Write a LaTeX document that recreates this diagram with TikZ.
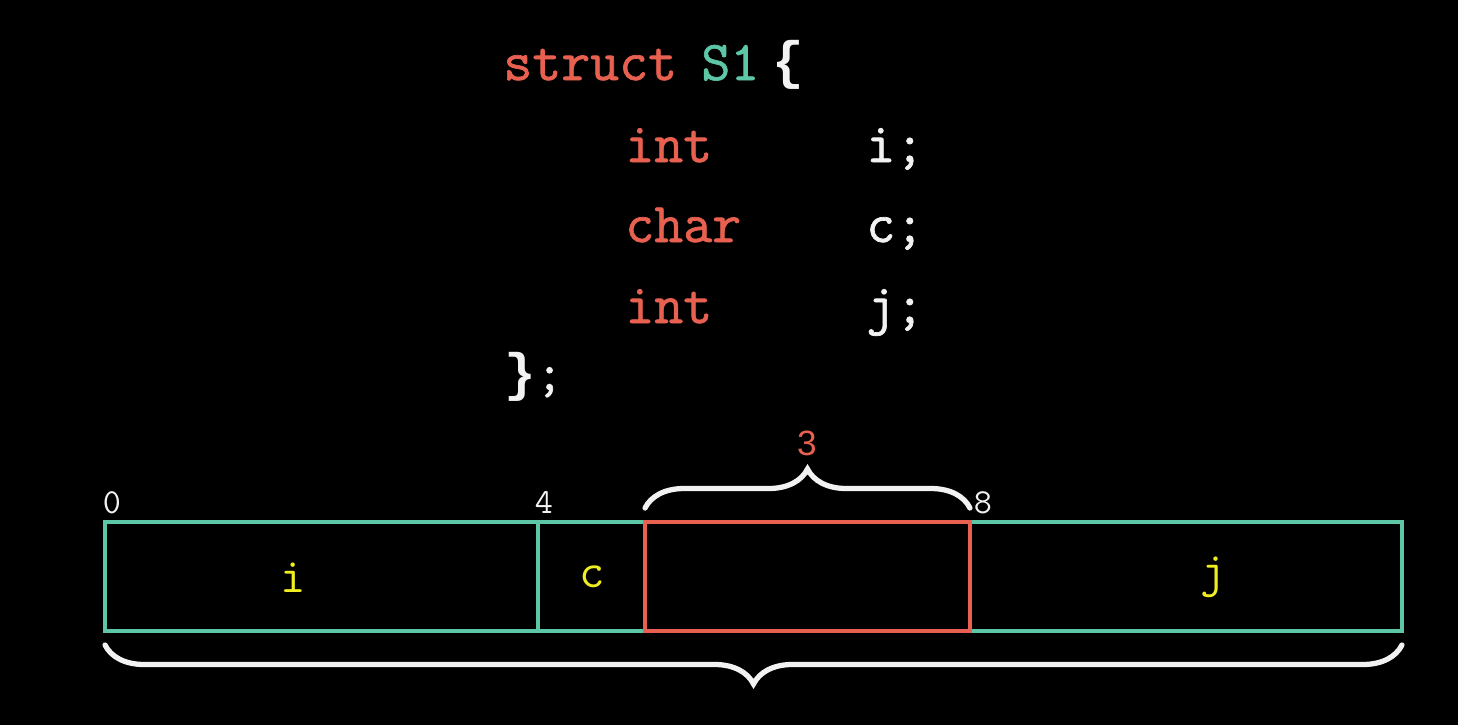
\documentclass[tikz,border=0pt]{standalone}
\usepackage{fontspec}
\usetikzlibrary{decorations.pathreplacing}
\newfontfamily\codefont{Latin Modern Mono}[FakeBold=1.2]
\newfontfamily\bracefont{Liberation Mono}
\newfontfamily\numfont{Liberation Sans}
\definecolor{kwred}{HTML}{E8604F}
\definecolor{fieldteal}{HTML}{5CC6A6}
\definecolor{lblyellow}{HTML}{F0EE20}
\definecolor{txtwhite}{HTML}{F2F2F2}

\begin{document}
\begin{tikzpicture}[x=0.02cm, y=-0.02cm,
  code/.style={anchor=base west, inner sep=0pt, font=\fontsize{32}{38}\selectfont\codefont},
  kw/.style={code, text=kwred},
  var/.style={code, text=txtwhite},
  cbrace/.style={anchor=base west, inner sep=0pt, text=txtwhite, font=\fontsize{30}{36}\selectfont\bracefont\bfseries},
  field/.style={draw=fieldteal, line width=2.2pt, minimum height=2.18cm, inner sep=0pt, outer sep=0pt},
  off/.style={text=txtwhite, inner sep=0pt, font=\fontsize{20}{22}\selectfont\ttfamily},
  fname/.style={text=lblyellow, inner sep=0pt, font=\fontsize{28}{32}\selectfont\ttfamily},
  brc/.style={decorate, decoration={brace, amplitude=0.78cm}, draw=txtwhite, line width=3pt, line cap=round}
]
  \fill[black] (0,0) rectangle (1458,725);
  \useasboundingbox (0,0) rectangle (1458,725);

  % struct definition
  \node[kw] (kstruct) at (503,80) {struct};
  \node[code, text=fieldteal] (sname) at (701,80) {S1};
  \node[cbrace] (lbrace) at (772,78) {\{};
  \node[kw] (t1) at (625,162) {int};
  \node[var] (v1) at (866,162) {i;};
  \node[kw] (t2) at (625,242) {char};
  \node[var] (v2) at (866,242) {c;};
  \node[kw] (t3) at (625,323) {int};
  \node[var] (v3) at (866,323) {j;};
  \node[cbrace] (rbrace) at (504,390) {\}{\codefont\mdseries;}};

  % memory layout
  \node[field, minimum width=8.66cm] (fi) at (321.5,576.5) {};
  \node[field, minimum width=2.14cm] (fc) at (591.5,576.5) {};
  \node[field, minimum width=8.64cm] (fj) at (1186,576.5) {};
  \node[field, draw=kwred, minimum width=6.5cm] (pad) at (807.5,576.5) {};

  \node[fname] (li) at (293,578) {i};
  \node[fname] (lc) at (592,577) {c};
  \node[fname] (lj) at (1213,577) {j};

  \node[off] (o0) at (112,503) {0};
  \node[off] (o4) at (544,503) {4};
  \node[off] (o8) at (983,503) {8};

  \draw[brc] ([yshift=0.28cm]pad.north west) -- ([yshift=0.28cm]pad.north east);
  \node[text=kwred, inner sep=0pt, font=\fontsize{20}{22}\selectfont\numfont] (npad) at (807,443) {3};
  \draw[brc] ([yshift=-0.28cm]fj.south east) -- ([yshift=-0.28cm]fi.south west);
\end{tikzpicture}
\end{document}
